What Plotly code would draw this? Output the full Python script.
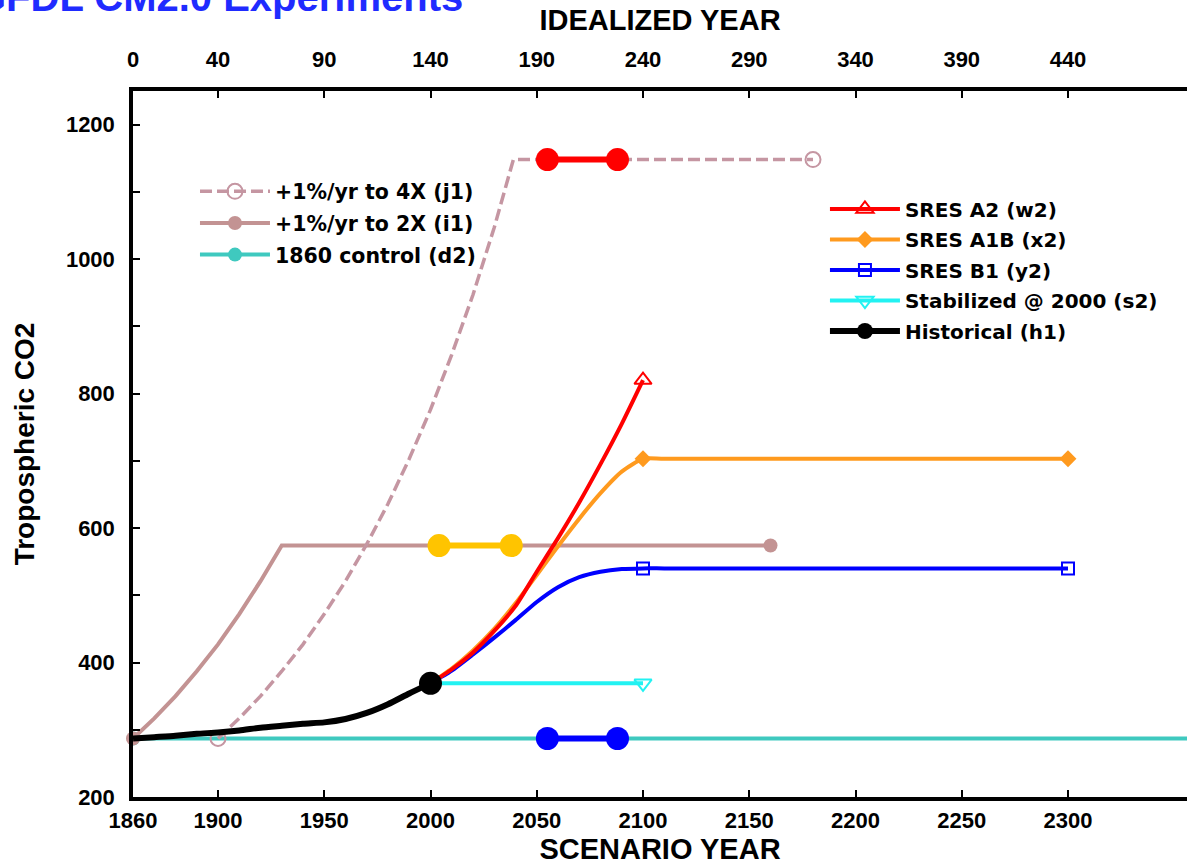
import plotly.graph_objects as go

FONT = "Liberation Sans"
LEGFONT = "DejaVu Sans"

# ---------------- data ----------------
# 1860 control (d2)
ctrl_years = [1860, 2400]
ctrl_co2 = [287, 287]

# +1%/yr to 2X (i1)
i1_years = [1860, 1870, 1880, 1890, 1900, 1910, 1920, 1930, 2000, 2100, 2160]
i1_co2 = [287, 317, 350, 387, 427, 472, 521, 574, 574, 574, 574]

# +1%/yr to 4X (j1)
j1_years = [1900, 1910, 1920, 1930, 1940, 1950, 1960, 1970, 1980, 1990, 2000,
            2010, 2020, 2030, 2039, 2100, 2180]
j1_co2 = [287, 317, 350, 387, 427, 472, 521, 576, 636, 703, 776,
          858, 947, 1047, 1148, 1148, 1148]

# Historical (h1) -- listed from 2000 back to 1860
hist_years = [2000, 1990, 1980, 1970, 1960, 1950, 1940, 1930, 1920, 1910, 1900,
              1890, 1880, 1870, 1860]
hist_co2 = [369, 354, 338, 325, 316, 311, 309, 306, 303, 299, 296,
            294, 291, 289, 287]

# SRES scenarios
sres_years = [2000, 2010, 2020, 2030, 2040, 2050, 2060, 2070, 2080, 2090, 2100]
a2_co2 = [369, 390, 415, 447, 484, 535, 585, 638, 695, 755, 820]
a1b_years = sres_years + [2110, 2300]
a1b_co2 = [369, 391, 418, 450, 488, 530, 573, 614, 652, 684, 703, 703, 703]
b1_years = sres_years + [2110, 2300]
b1_co2 = [369, 388, 412, 437, 463, 490, 512, 527, 535, 539, 540, 540, 540]
stab_years = [2000, 2100]
stab_co2 = [369, 369]

# analysis-period bars
red_bar_years = [2055, 2088]
red_bar_co2 = [1148, 1148]
gold_bar_years = [2004, 2038]
gold_bar_co2 = [574, 574]
blue_bar_years = [2055, 2088]
blue_bar_co2 = [287, 287]

# axes
scen_ticks = [1860, 1900, 1950, 2000, 2050, 2100, 2150, 2200, 2250, 2300]
ideal_ticks = [0, 40, 90, 140, 190, 240, 290, 340, 390, 440]
co2_ticks = [200, 400, 600, 800, 1000, 1200]

X_RANGE = [1860, 2356]
Y_RANGE = [200, 1250]

CLEAR = "rgba(0,0,0,0)"


def end_colors(n, color, idx):
    return [color if i in idx else CLEAR for i in range(n)]


fig = go.Figure()

# control
fig.add_trace(go.Scatter(
    x=ctrl_years, y=ctrl_co2, mode="lines+markers", name="1860 control (d2)",
    line=dict(color="#3fc9bf", width=4),
    marker=dict(symbol="circle", size=14, color=end_colors(2, "#3fc9bf", [0])),
    legend="legend", legendrank=3, legendgroup="d2"))

# i1
fig.add_trace(go.Scatter(
    x=i1_years, y=i1_co2, mode="lines+markers", name="+1%/yr to 2X (i1)",
    line=dict(color="#c39393", width=4),
    marker=dict(symbol="circle", size=14,
                color=end_colors(len(i1_years), "#c39393", [0, len(i1_years) - 1])),
    cliponaxis=False, legend="legend", legendrank=2, legendgroup="i1"))

# j1
fig.add_trace(go.Scatter(
    x=j1_years, y=j1_co2, mode="lines+markers", name="+1%/yr to 4X (j1)",
    line=dict(color="#c596a2", width=3.5, dash="12px,5px"),
    marker=dict(symbol="circle-open", size=15, line=dict(width=2),
                color=end_colors(len(j1_years), "#c596a2", [0, len(j1_years) - 1])),
    cliponaxis=False, legend="legend", legendrank=1, legendgroup="j1"))

# B1
fig.add_trace(go.Scatter(
    x=b1_years, y=b1_co2, mode="lines+markers", name="SRES B1 (y2)",
    line=dict(color="#0000ff", width=4, shape="spline", smoothing=0.6),
    marker=dict(symbol="square-open", size=12, line=dict(width=2),
                color=end_colors(len(b1_years), "#0000ff", [0, 10, 12])),
    legend="legend2", legendrank=3, legendgroup="y2"))

# A1B
fig.add_trace(go.Scatter(
    x=a1b_years, y=a1b_co2, mode="lines+markers", name="SRES A1B (x2)",
    line=dict(color="#ff9a1e", width=4, shape="spline", smoothing=0.6),
    marker=dict(symbol="diamond", size=13,
                color=end_colors(len(a1b_years), "#ff9a1e", [0, 10, 12])),
    legend="legend2", legendrank=2, legendgroup="x2"))

# A2
fig.add_trace(go.Scatter(
    x=sres_years, y=a2_co2, mode="lines+markers", name="SRES A2 (w2)",
    line=dict(color="#ff0000", width=4, shape="spline", smoothing=0.6),
    marker=dict(symbol="triangle-up-open", size=15, line=dict(width=2),
                color=end_colors(len(sres_years), "#ff0000", [0, 10])),
    legend="legend2", legendrank=1, legendgroup="w2"))

# Stabilized
fig.add_trace(go.Scatter(
    x=stab_years, y=stab_co2, mode="lines+markers", name="Stabilized @ 2000 (s2)",
    line=dict(color="#22f2f2", width=4),
    marker=dict(symbol="triangle-down-open", size=15, line=dict(width=2),
                color=["#22f2f2", "#22f2f2"]),
    legend="legend2", legendrank=4, legendgroup="s2"))

# Historical
fig.add_trace(go.Scatter(
    x=hist_years, y=hist_co2, mode="lines+markers", name="Historical (h1)",
    line=dict(color="#000000", width=6, shape="spline", smoothing=0.6),
    marker=dict(symbol="circle", size=23,
                color=end_colors(len(hist_years), "#000000", [0])),
    legend="legend2", legendrank=5, legendgroup="h1"))

# bars
for bx, by, col in [(red_bar_years, red_bar_co2, "#ff0000"),
                    (gold_bar_years, gold_bar_co2, "#ffc400"),
                    (blue_bar_years, blue_bar_co2, "#0000ff")]:
    fig.add_trace(go.Scatter(
        x=bx, y=by, mode="lines+markers", showlegend=False,
        line=dict(color=col, width=6),
        marker=dict(symbol="circle", size=23, color=col)))

# dummy trace to activate top axis
fig.add_trace(go.Scatter(x=[0], y=[200], xaxis="x2", mode="markers",
                         marker=dict(opacity=0), showlegend=False, hoverinfo="skip"))

tickfont = dict(family=FONT, size=22, color="black", weight="bold")
titlefont = dict(family=FONT, size=29, color="black", weight="bold")

fig.update_layout(
    width=1187, height=865,
    margin=dict(l=133, r=0, t=91, b=68),
    paper_bgcolor="white", plot_bgcolor="white",
    showlegend=True,
    xaxis=dict(range=X_RANGE, tickvals=scen_ticks, ticktext=[str(v) for v in scen_ticks],
               ticks="inside", ticklen=7, tickwidth=2, tickcolor="black",
               showline=True, linewidth=3.5, linecolor="black", showgrid=False,
               zeroline=False, tickfont=tickfont, ticklabelstandoff=1,
               title=dict(text="SCENARIO YEAR", font=titlefont, standoff=5)),
    xaxis2=dict(range=[X_RANGE[0] - 1860, X_RANGE[1] - 1860], overlaying="x", side="top",
                tickvals=ideal_ticks, ticks="inside", ticklen=7, tickwidth=2,
                tickcolor="black", showline=True, linewidth=3.5, linecolor="black",
                showgrid=False, zeroline=False, tickfont=tickfont, ticklabelstandoff=11,
                title=dict(text="IDEALIZED YEAR", font=titlefont, standoff=9)),
    yaxis=dict(range=Y_RANGE, tickvals=co2_ticks, ticks="inside", ticklen=7, tickwidth=2,
               tickcolor="black", showline=True, linewidth=3.5, linecolor="black",
               showgrid=False, zeroline=False, tickfont=tickfont, ticklabelstandoff=10,
               minor=dict(ticks="inside", dtick=100, ticklen=7, tickwidth=2,
                          tickcolor="black", showgrid=False),
               title=dict(text="Tropospheric CO2", font=dict(family=FONT, size=28,
                          color="black", weight="bold"), standoff=24)),
    legend=dict(x=0.0588, y=0.886, xanchor="left", yanchor="top",
                bgcolor="rgba(0,0,0,0)", itemwidth=70, tracegroupgap=2,
                traceorder="grouped",
                font=dict(family=LEGFONT, size=20.5, color="black", weight="bold")),
    legend2=dict(x=0.6565, y=0.8605, xanchor="left", yanchor="top",
                 bgcolor="rgba(0,0,0,0)", itemwidth=70, tracegroupgap=1.5,
                 traceorder="grouped",
                 font=dict(family=LEGFONT, size=20, color="black", weight="bold")),
    annotations=[dict(text="GFDL CM2.0 Experiments", xref="paper", yref="paper",
                      x=0.315, y=1.133, xanchor="right", yanchor="middle",
                      showarrow=False,
                      font=dict(family=FONT, size=40, color="#1f2bff", weight="bold"))],
)

fig.write_html("out.html")
